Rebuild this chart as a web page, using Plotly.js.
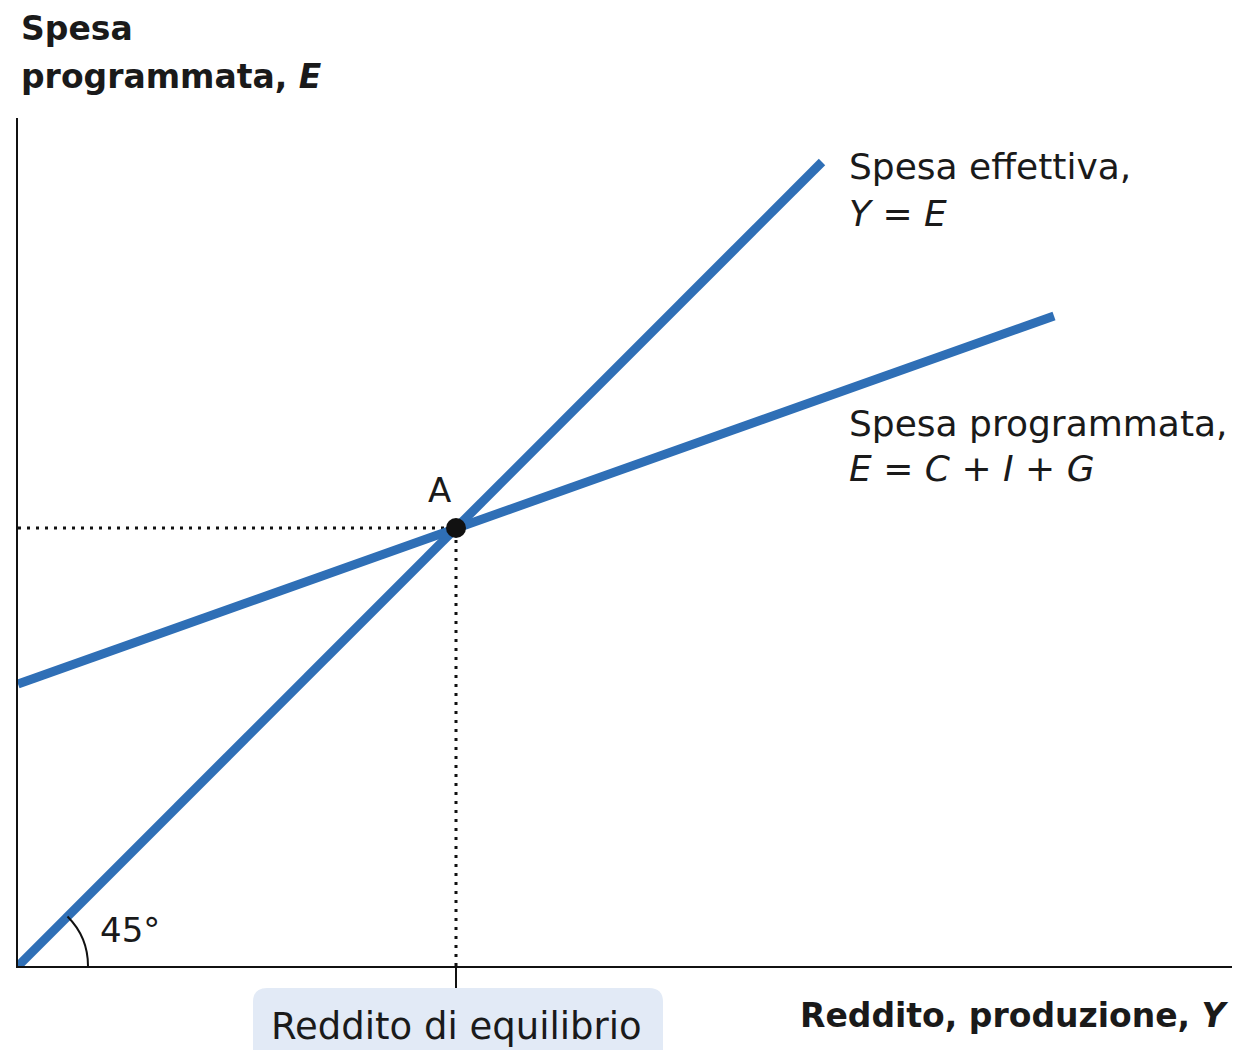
<!DOCTYPE html>
<html>
<head>
<meta charset="utf-8">
<script src="https://cdn.plot.ly/plotly-3.0.1.min.js"></script>
<style>html,body{margin:0;padding:0;background:#fff;}#chart{width:1241px;height:1050px;}</style>
</head>
<body>
<div id="chart"></div>
<script>
// Data (income Y, expenditure E) in chart units
const actualY = [0, 804];
const actualE = [0, 804];
const plannedY = [0, 1036];
const plannedE = [282, 650];
const eqY = [438];
const eqE = [438];
const xRange = [0, 1214];
const yRange = [0, 848];

const blue = '#2f6fb6';
const font = '"DejaVu Sans", "Liberation Sans", Arial, sans-serif';
const txt = '#1a1a1a';

// 45° arc (cubic Bezier approximation)
const r = 70, k = 4/3*Math.tan(Math.PI/16), c = Math.cos(Math.PI/4), s = Math.sin(Math.PI/4);
const arcPath = `M ${r} 0 C ${r} ${k*r} ${r*c + k*r*s} ${r*s - k*r*c} ${r*c} ${r*s}`;

// convert chart units to paper fractions (for items outside the plot area)
const px = v => (v - xRange[0]) / (xRange[1] - xRange[0]);
const py = v => (v - yRange[0]) / (yRange[1] - yRange[0]);
const bx0 = px(235), bx1 = px(645), by0 = py(-100), by1 = py(-22);
const rx = px(14) - px(0), ry = py(14) - py(0);
const boxPath = `M ${bx0+rx} ${by1} L ${bx1-rx} ${by1} Q ${bx1} ${by1} ${bx1} ${by1-ry} L ${bx1} ${by0} L ${bx0} ${by0} L ${bx0} ${by1-ry} Q ${bx0} ${by1} ${bx0+rx} ${by1} Z`;

const traces = [
  {x: [0, eqY[0]], y: [eqE[0], eqE[0]], mode: 'lines', line: {color: '#111', width: 3, dash: '3px,6px'}, hoverinfo: 'skip'},
  {x: [eqY[0], eqY[0]], y: [0, eqE[0]], mode: 'lines', line: {color: '#111', width: 3, dash: '3px,6px'}, hoverinfo: 'skip'},
  {x: actualY, y: actualE, mode: 'lines', line: {color: blue, width: 9}},
  {x: plannedY, y: plannedE, mode: 'lines', line: {color: blue, width: 9}},
  {x: eqY, y: eqE, mode: 'markers', marker: {color: '#111', size: 20}, cliponaxis: false}
];

const ann = (x, y, text, size, o) => Object.assign({x: px(x), y: py(y), xref: 'paper', yref: 'paper', text, showarrow: false,
  xanchor: 'left', yanchor: 'middle', font: {family: font, size: size, color: txt}}, o || {});

const layout = {
  width: 1241, height: 1050,
  margin: {l: 18, r: 9, t: 118, b: 84},
  paper_bgcolor: '#fff', plot_bgcolor: '#fff',
  showlegend: false,
  xaxis: {range: xRange, showgrid: false, zeroline: false, showline: true, linecolor: '#111', linewidth: 2,
          tickvals: eqY, ticks: 'outside', ticklen: 20, tickwidth: 2, tickcolor: '#111', showticklabels: false, fixedrange: true},
  yaxis: {range: yRange, showgrid: false, zeroline: false, showline: true, linecolor: '#111', linewidth: 2,
          showticklabels: false, ticks: '', fixedrange: true},
  shapes: [
    {type: 'path', xref: 'x', yref: 'y', path: arcPath, line: {color: '#111', width: 2}},
    {type: 'path', xref: 'paper', yref: 'paper', path: boxPath, fillcolor: '#e2eaf6', line: {width: 0}, layer: 'below'}
  ],
  annotations: [
    ann(1, 938, '<b>Spesa</b>', 33),
    ann(1, 889, '<b>programmata, <i>E</i></b>', 33),
    ann(1213, -49, '<b>Reddito, produzione, <i>Y</i></b>', 33, {xanchor: 'right'}),
    ann(eqY[0], -60, 'Reddito di equilibrio', 37, {xanchor: 'center'}),
    ann(829, 799, 'Spesa effettiva,', 36),
    ann(829, 753, '<i>Y</i> = <i>E</i>', 36),
    ann(829, 543, 'Spesa programmata,', 36),
    ann(829, 498, '<i>E</i> = <i>C</i> + <i>I</i> + <i>G</i>', 36),
    ann(eqY[0] - 17, eqE[0] + 38, 'A', 34, {xanchor: 'center'}),
    ann(80, 36, '45°', 34)
  ]
};

Plotly.newPlot('chart', traces, layout, {displayModeBar: false, staticPlot: true});
</script>
</body>
</html>
